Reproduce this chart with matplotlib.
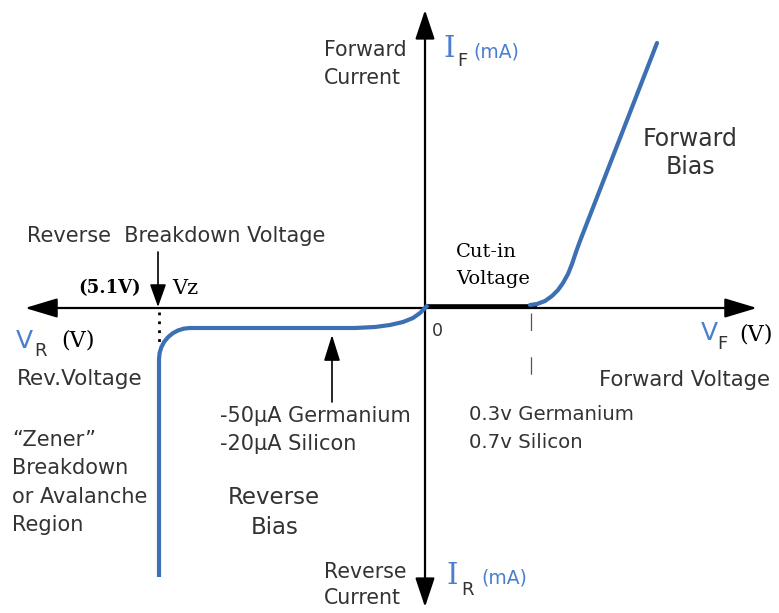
import matplotlib
matplotlib.use("Agg")
import matplotlib.pyplot as plt

# ---- data (schematic units: origin at the axes crossing) ----
# forward bias curve (blue) : voltage units, current units
fwd_v = [105, 112, 120, 127, 133, 138, 143, 147, 151, 155, 232]
fwd_i = [3, 4, 7, 12, 18, 25, 34, 44, 56, 67, 265]
# cut-in (flat) region drawn in black
cutin_v = [0, 112]
cutin_i = [2, 2]
# reverse bias curve (blue)
rev_v = [3, 0, -5, -12, -22, -35, -50, -70, -235, -241.0, -246.9, -252.2,
         -256.9, -260.8, -263.6, -265.4, -266, -266]
rev_i = [3, 0, -5, -10, -14, -17, -19, -20, -20, -20.6, -22.4, -25.2,
         -29.1, -33.8, -39.1, -45.0, -51, -269]
# breakdown voltage marker and cut-in voltage marker
vz = -267
v_cutin = 106

X0, Y0 = 425, 308  # pixel position of origin


def P(px, py):
    return (px - X0, Y0 - py)


BLUE = '#3d6fb3'
BLUE_T = '#4a7fcf'
GRAY = '#333333'
SANS = 'DejaVu Sans'
SERIF = 'DejaVu Serif'

fig = plt.figure(figsize=(7.79, 6.13), dpi=100)
ax = fig.add_axes([0, 0, 1, 1])
ax.set_xlim(-X0, 779 - X0)
ax.set_ylim(Y0 - 613, Y0)
ax.axis('off')

# axes arrows
ax.annotate('', xy=P(25, 308), xytext=P(757, 308),
            arrowprops=dict(arrowstyle='<|-|>,head_length=2.0,head_width=0.6',
                            mutation_scale=10, lw=1.6, color='black',
                            shrinkA=0, shrinkB=0))
ax.annotate('', xy=P(425, 10), xytext=P(425, 607),
            arrowprops=dict(arrowstyle='<|-|>,head_length=1.8,head_width=0.6',
                            mutation_scale=10, lw=1.6, color='black',
                            shrinkA=0, shrinkB=0))

# curves
ax.plot(cutin_v, cutin_i, color='black', lw=2.6, solid_capstyle='butt', zorder=3)
ax.plot(fwd_v, fwd_i, color=BLUE, lw=3.0, solid_capstyle='round', zorder=4)
ax.plot(rev_v, rev_i, color=BLUE, lw=3.0, solid_capstyle='butt',
        solid_joinstyle='round', zorder=4)

# dotted and dashed markers
ax.plot([vz + 1, vz + 1], [-4, -38], color='black', lw=2, linestyle=(0, (1, 2.2)))
ax.plot([v_cutin, v_cutin], [-5, -78], color='#555555', lw=0.9,
        linestyle=(0, (14, 21)))

# pointer arrows
ax.annotate('', xy=P(158, 307), xytext=P(158, 252),
            arrowprops=dict(arrowstyle='-|>,head_length=1.4,head_width=0.5',
                            mutation_scale=10, lw=1.2, color='black',
                            shrinkA=0, shrinkB=0))
ax.annotate('', xy=P(332, 335), xytext=P(332, 402),
            arrowprops=dict(arrowstyle='-|>,head_length=1.6,head_width=0.5',
                            mutation_scale=10, lw=1.2, color='black',
                            shrinkA=0, shrinkB=0))


def T(px, py, s, size=13, family=SANS, color=GRAY, ha='left', va='center', **kw):
    ax.text(*P(px, py), s, fontsize=size, family=family, color=color,
            ha=ha, va=va, **kw)


# text
T(324, 50, 'Forward', size=14.8)
T(324, 78, 'Current', size=14.8)
T(443, 57, 'I', size=21, family=SERIF, color=BLUE_T, va='baseline')
T(457, 66, 'F', size=13, va='baseline')
T(473, 57, '(mA)', size=13.5, color=BLUE_T, va='baseline')

T(690, 139, 'Forward', size=17, ha='center')
T(690, 167, 'Bias', size=17, ha='center')

T(27, 236, 'Reverse  Breakdown Voltage', size=15)
T(78, 288, '(5.1V)', size=13, family=SERIF, color='black', fontweight='bold')
T(172, 288, 'Vz', size=15, family=SERIF, color='black')

T(16, 348, 'V', size=18, color=BLUE_T, va='baseline')
T(34, 356, 'R', size=13, va='baseline')
T(61, 340, '(V)', size=16, family=SERIF, color='black')
T(17, 379, 'Rev.Voltage', size=15.5)

T(456, 252, 'Cut-in', size=14, family=SERIF, color='black')
T(456, 279, 'Voltage', size=14, family=SERIF, color='black')
T(432, 331, '0', size=12.5)

T(701, 340, 'V', size=18, color=BLUE_T, va='baseline')
T(717, 349, 'F', size=13, va='baseline')
T(739, 335, '(V)', size=16, family=SERIF, color='black')
T(599, 380, 'Forward Voltage', size=15.2)

T(220, 416, '-50\u03bcA Germanium', size=15)
T(220, 444, '-20\u03bcA Silicon', size=15)
T(469, 414, '0.3v Germanium', size=14.2)
T(469, 442, '0.7v Silicon', size=14.2)

T(12, 440, '\u201cZener\u201d', size=15)
T(12, 468, 'Breakdown', size=15)
T(12, 497, 'or Avalanche', size=15)
T(12, 525, 'Region', size=15)

T(274, 498, 'Reverse', size=16.5, ha='center')
T(275, 527, 'Bias', size=16.5, ha='center')

T(324, 572, 'Reverse', size=14.8)
T(324, 598, 'Current', size=14.8)
T(446, 584, 'I', size=21, family=SERIF, color=BLUE_T, va='baseline')
T(461, 595, 'R', size=13, va='baseline')
T(481, 584, '(mA)', size=13.5, color=BLUE_T, va='baseline')

fig.savefig('out.png', dpi=100)
